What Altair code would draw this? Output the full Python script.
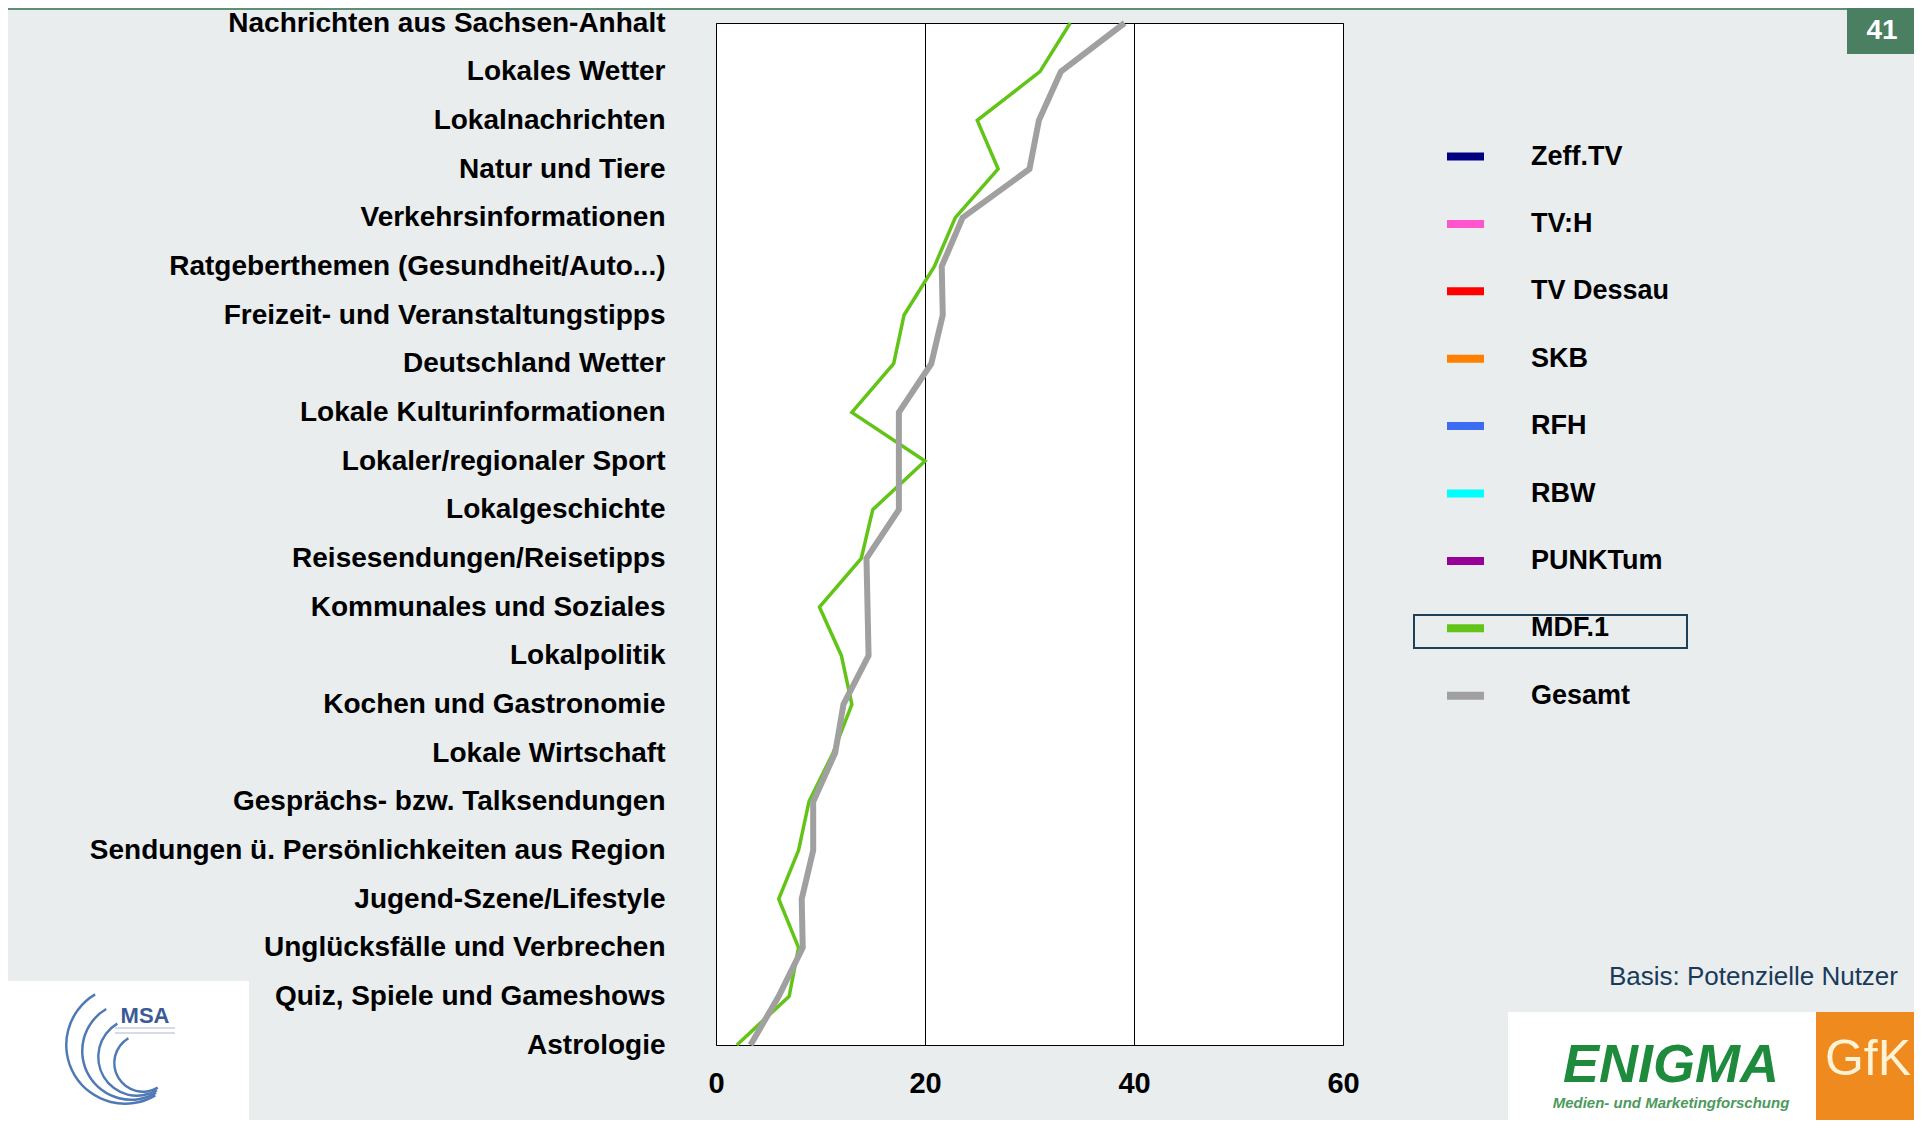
import altair as alt
import pandas as pd

categories = [
    "Nachrichten aus Sachsen-Anhalt", "Lokales Wetter", "Lokalnachrichten", "Natur und Tiere",
    "Verkehrsinformationen", "Ratgeberthemen (Gesundheit/Auto...)", "Freizeit- und Veranstaltungstipps",
    "Deutschland Wetter", "Lokale Kulturinformationen", "Lokaler/regionaler Sport", "Lokalgeschichte",
    "Reisesendungen/Reisetipps", "Kommunales und Soziales", "Lokalpolitik", "Kochen und Gastronomie",
    "Lokale Wirtschaft", "Gesprächs- bzw. Talksendungen", "Sendungen ü. Persönlichkeiten aus Region",
    "Jugend-Szene/Lifestyle", "Unglücksfälle und Verbrechen", "Quiz, Spiele und Gameshows", "Astrologie",
]
mdf1 = [33.9, 31.0, 25.0, 27.0, 22.9, 20.9, 18.0, 17.0, 13.0, 20.0, 15.0,
        13.9, 9.9, 12.0, 13.0, 11.2, 8.9, 7.9, 6.0, 7.9, 7.0, 2.0]
gesamt = [39.1, 33.0, 30.9, 30.0, 23.6, 21.6, 21.7, 20.6, 17.5, 17.5, 17.5,
          14.4, 14.5, 14.6, 12.2, 11.4, 9.3, 9.3, 8.2, 8.3, 6.0, 3.3]
series_names = ["Zeff.TV", "TV:H", "TV Dessau", "SKB", "RFH", "RBW", "PUNKTum", "MDF.1", "Gesamt"]
series_colors = ["#000080", "#FF55CC", "#FF0000", "#FF8000", "#3D6BF2", "#00FFFF", "#990099", "#63C418", "#A0A0A0"]
x_ticks = [0, 20, 40, 60]

rows = []
for i, c in enumerate(categories):
    rows.append({"category": c, "value": mdf1[i], "series": "MDF.1", "idx": i})
for i, c in enumerate(categories):
    rows.append({"category": c, "value": gesamt[i], "series": "Gesamt", "idx": i})
df = pd.DataFrame(rows)

FONT = "Liberation Sans"
W, H = 627, 1022

color_enc = alt.Color(
    "series:N",
    scale=alt.Scale(domain=series_names, range=series_colors),
    legend=alt.Legend(
        title=None, orient="none", legendX=727, legendY=111,
        symbolType="stroke", symbolSize=1369, symbolStrokeWidth=8,
        labelFont=FONT, labelFontSize=27, labelFontWeight="bold", labelColor="black",
        labelOffset=43, rowPadding=28.4, padding=0, labelLimit=400,
    ),
)
x_enc = alt.X(
    "value:Q",
    scale=alt.Scale(domain=[0, 60], nice=False),
    axis=alt.Axis(
        title=None, values=x_ticks, grid=True, gridColor="black", gridWidth=1, gridOpacity=1,
        ticks=False, domain=False, labelFont=FONT, labelFontSize=29, labelFontWeight="bold",
        labelColor="black", labelPadding=24, labelFlush=False,
    ),
)
y_enc = alt.Y(
    "category:N",
    sort=categories,
    scale=alt.Scale(domain=categories, padding=0),
    axis=alt.Axis(
        title=None, ticks=False, domain=False, grid=False, labelFont=FONT, labelFontSize=28,
        labelFontWeight="bold", labelColor="black", labelPadding=51, labelLimit=1000,
    ),
)

base = alt.Chart(df)
green = base.transform_filter(alt.datum.series == "MDF.1").mark_line(strokeWidth=3.5, strokeJoin="miter").encode(
    x=x_enc, y=y_enc, color=color_enc, order=alt.Order("idx:Q"))
gray = base.transform_filter(alt.datum.series == "Gesamt").mark_line(strokeWidth=6, strokeJoin="miter").encode(
    x=x_enc, y=y_enc, color=color_enc, order=alt.Order("idx:Q"))

one = alt.Chart(pd.DataFrame({"d": [0]}))

def rect(x, x2, y, y2, **kw):
    return one.mark_rect(**kw).encode(x=alt.value(x), x2=alt.value(x2), y=alt.value(y), y2=alt.value(y2))

def text(t, x, y, **kw):
    return one.mark_text(text=t, baseline="middle", **kw).encode(x=alt.value(x), y=alt.value(y))

deco = [
    one.mark_rule(color="#5E8F75", strokeWidth=2).encode(
        x=alt.value(-708), x2=alt.value(1198), y=alt.value(-14)),
    rect(1131, 1198, -15, 31, color="#4A7F61"),
    text("41", 1166, 8, align="center", font=FONT, fontSize=28, fontWeight="bold", color="white"),
    rect(698, 971, 592, 625, fill="transparent", stroke="#1F4157", strokeWidth=2),
    text("Basis: Potenzielle Nutzer", 1182, 954, align="right", font=FONT, fontSize=26, color="#1A3A5A"),
    rect(792, 1198, 989, 1097, color="white"),
    rect(1100, 1198, 989, 1097, color="#EE8A1E"),
    text("GfK", 1152, 1037, align="center", font=FONT, fontSize=50, color="#FFF3D6"),
    text("ENIGMA", 955, 1043, align="center", font=FONT, fontSize=54, fontWeight="bold",
         fontStyle="italic", color="#1E8A3C"),
    text("Medien- und Marketingforschung", 955, 1080, align="center", font=FONT, fontSize=15,
         fontWeight="bold", fontStyle="italic", color="#4C9A5C"),
    rect(-708, -467, 958, 1097, color="white"),
]
for r, dx, dy in [(60, 0, 0), (50, 6, 6), (40, 12, 12), (30, 18, 18)]:
    deco.append(one.mark_arc(radius=r, radius2=r - 2.5, theta=2.6, theta2=5.75, color="#4F79B5").encode(
        x=alt.value(-591 + dx), y=alt.value(1022 + dy)))
deco += [
    text("MSA", -571, 993, align="center", font=FONT, fontSize=22, fontWeight="bold", color="#3B5A96"),
    one.mark_rule(color="#AAB6D0", strokeWidth=1).encode(x=alt.value(-601), x2=alt.value(-541), y=alt.value(1005)),
    one.mark_rule(color="#AAB6D0", strokeWidth=1).encode(x=alt.value(-601), x2=alt.value(-541), y=alt.value(1010)),
]

chart = alt.layer(*deco, green, gray).properties(
    width=W, height=H,
    autosize=alt.AutoSizeParams(type="none"),
    padding={"left": 708, "top": 15, "right": 571, "bottom": 75},
    background="#E9EDEE",
).configure_view(stroke="black", strokeWidth=1, fill="white")

chart.save("out.html", embed_options={"renderer": "svg", "actions": False})
